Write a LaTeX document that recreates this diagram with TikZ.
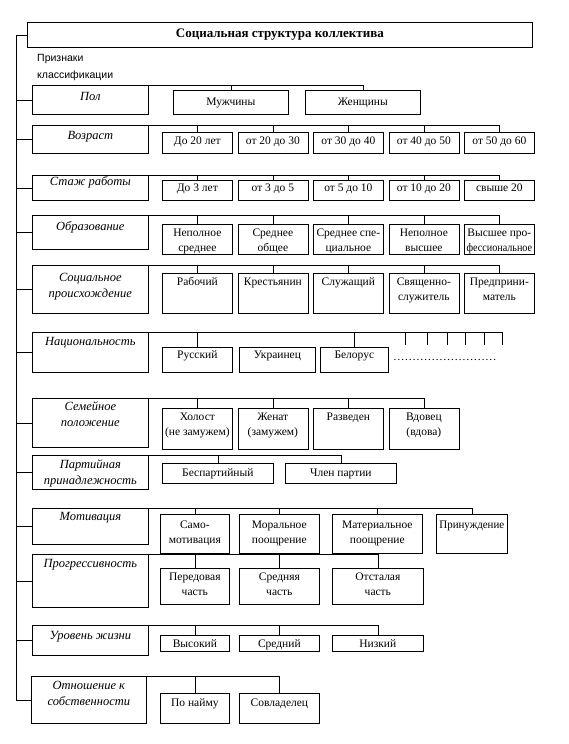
\documentclass[tikz,border=0pt]{standalone}
\usepackage{fontspec}
\setmainfont{Liberation Serif}
\newfontfamily\sansf{Liberation Sans}
\tikzset{
  ln/.style={line width=0.7pt},
  bx/.style={draw, line width=0.7pt, rectangle, inner sep=0pt, anchor=north west},
  vt/.style={inner sep=0pt, anchor=north, font=\fontsize{11.5}{15}\selectfont},
  ct/.style={inner sep=0pt, anchor=north, font=\fontsize{12.5}{16}\selectfont\itshape},
}
\newcommand{\valbox}[7][9]{%
  \node[bx, minimum width=#5pt, minimum height=#6pt] (#2) at (#3,#4) {};
  \node[vt] (#2t) at ([yshift={-(#1-7.7)*1pt}]#2.north) {\begin{tabular}{@{}c@{}}#7\end{tabular}};
}
\newcommand{\catbox}[7][10]{%
  \node[bx, minimum width=#5pt, minimum height=#6pt] (#2) at (#3,#4) {};
  \node[ct] (#2t) at ([yshift={-(#1-8.4)*1pt}]#2.north) {\begin{tabular}{@{}c@{}}#7\end{tabular}};
}
\newcommand{\lk}[2]{\draw[ln] (#2.north) |- (#1.north east);}
\begin{document}
\begin{tikzpicture}[x=1pt,y=-1pt]
\fill[white] (0,0) rectangle (569,744);
\useasboundingbox (0,0) rectangle (569,744);

% title
\node[bx, minimum width=505pt, minimum height=25pt] (title) at (27,22) {};
\node[inner sep=0pt, font=\fontsize{13}{15}\selectfont\bfseries] (titlet) at (title.center) {Социальная структура коллектива};
\node[anchor=north west, inner sep=0pt, font=\sansf\fontsize{10.5}{17}\selectfont] (lab) at (37,49.5) {\begin{tabular}{@{}l@{}}Признаки\\классификации\end{tabular}};

% row 1
\catbox[12]{c1}{32}{85}{116}{29}{Пол}
\valbox[12]{m1}{173}{90}{115}{24}{Мужчины}
\valbox[12]{m2}{305}{90}{115}{24}{Женщины}
\lk{c1}{m1}\lk{c1}{m2}

% row 2
\catbox[11]{c2}{32}{125}{116}{28}{Возраст}
\valbox{a1}{162}{132}{70}{21}{До 20 лет}
\valbox{a2}{237.5}{132}{70}{21}{от 20 до 30}
\valbox{a3}{313}{132}{70}{21}{от 30 до 40}
\valbox{a4}{388.5}{132}{70}{21}{от 40 до 50}
\valbox{a5}{464}{132}{70}{21}{от 50 до 60}
\lk{c2}{a1}\lk{c2}{a2}\lk{c2}{a3}\lk{c2}{a4}\lk{c2}{a5}

% row 3
\catbox[7]{c3}{32}{175}{116}{25}{Стаж работы}
\valbox[8]{s1}{162}{180}{70}{20}{До 3 лет}
\valbox[8]{s2}{237.5}{180}{70}{20}{от 3 до 5}
\valbox[8]{s3}{313}{180}{70}{20}{от 5 до 10}
\valbox[8]{s4}{388.5}{180}{70}{20}{от 10 до 20}
\valbox[8]{s5}{464}{180}{70}{20}{свыше 20}
\lk{c3}{s1}\lk{c3}{s2}\lk{c3}{s3}\lk{c3}{s4}\lk{c3}{s5}

% row 4
\catbox[12]{c4}{32}{215}{116}{34}{Образование}
\valbox{e1}{162}{224}{70}{30}{Неполное\\среднее}
\valbox{e2}{237.5}{224}{70}{30}{Среднее\\общее}
\valbox{e3}{313}{224}{70}{30}{Среднее спе-\\циальное}
\valbox{e4}{388.5}{224}{70}{30}{Неполное\\высшее}
\valbox{e5}{464}{224}{70}{30}{Высшее про-\\\scalebox{0.88}[1]{фессиональное}}
\lk{c4}{e1}\lk{c4}{e2}\lk{c4}{e3}\lk{c4}{e4}\lk{c4}{e5}

% row 5
\catbox[13]{c5}{32}{265}{116}{48}{Социальное\\происхождение}
\valbox{o1}{162}{273}{70}{40}{Рабочий}
\valbox{o2}{237.5}{273}{70}{40}{Крестьянин}
\valbox{o3}{313}{273}{70}{40}{Служащий}
\valbox{o4}{388.5}{273}{70}{40}{Священно-\\служитель}
\valbox{o5}{464}{273}{70}{40}{Предприни-\\матель}
\lk{c5}{o1}\lk{c5}{o2}\lk{c5}{o3}\lk{c5}{o4}\lk{c5}{o5}

% row 6
\catbox[10]{c6}{32}{332}{116}{40}{Национальность}
\valbox[8]{r1}{162}{347}{70}{25}{Русский}
\valbox[8]{r2}{239}{347}{76}{25}{Украинец}
\valbox[8]{r3}{320}{347}{68}{25}{Белорус}
\lk{c6}{r1}\lk{c6}{r3}
\coordinate (n1) at (405,345);
\coordinate (n2) at (427,345);
\coordinate (n3) at (447,345);
\coordinate (n4) at (465,345);
\coordinate (n5) at (484,345);
\coordinate (n6) at (502,345);
\foreach \n in {n1,n2,n3,n4,n5,n6} {\draw[ln] (\n) |- (c6.north east);}
\node[vt, anchor=west] (dots) at (393,360) {\dots\dots\dots\dots\dots\dots\dots\dots\dots};

% row 7
\catbox[9]{c7}{32}{398}{116}{49}{Семейное\\положение}
\valbox{f1}{162}{408}{70}{41}{Холост\\(не замужем)}
\valbox{f2}{237.5}{408}{70}{41}{Женат\\(замужем)}
\valbox{f3}{313}{408}{70}{41}{Разведен}
\valbox{f4}{388.5}{408}{70}{41}{Вдовец\\(вдова)}
\lk{c7}{f1}\lk{c7}{f2}\lk{c7}{f3}\lk{c7}{f4}

% row 8
\catbox[10]{c8}{32}{455}{116}{34}{Партийная\\принадлежность}
\valbox[10]{p1}{162}{463}{111}{20}{Беспартийный}
\valbox[10]{p2}{285}{463}{111}{20}{Член партии}
\lk{c8}{p1}\lk{c8}{p2}

% row 9
\catbox[9]{c9}{32}{508}{116}{36}{Мотивация}
\valbox[11]{t1}{160}{514}{69}{39}{Само-\\мотивация}
\valbox[11]{t2}{239}{514}{80}{39}{Моральное\\поощрение}
\valbox[11]{t3}{332}{514}{90}{39}{Материальное\\поощрение}
\valbox[11]{t4}{436}{514}{71}{39}{\scalebox{0.95}[1]{Принуждение}}
\lk{c9}{t1}\lk{c9}{t2}\lk{c9}{t3}\lk{c9}{t4}

% row 10
\catbox[10]{c10}{32}{554}{116}{53}{Прогрессивность}
\valbox{g1}{160}{568}{69}{36}{Передовая\\часть}
\valbox{g2}{239}{568}{80}{36}{Средняя\\часть}
\valbox{g3}{332}{568}{91}{36}{Отсталая\\часть}
\lk{c10}{g1}\lk{c10}{g2}\lk{c10}{g3}

% row 11
\catbox[11]{c11}{32}{625}{116}{30}{Уровень жизни}
\valbox{l1}{160}{635}{69}{16}{Высокий}
\valbox{l2}{239}{635}{80}{16}{Средний}
\valbox{l3}{332}{635}{91}{16}{Низкий}
\lk{c11}{l1}\lk{c11}{l2}\lk{c11}{l3}

% row 12
\catbox[10]{c12}{31}{676}{115}{47}{Отношение к\\собственности}
\valbox[10]{w1}{160}{693}{69}{30}{По найму}
\valbox[10]{w2}{239}{693}{80}{30}{Совладелец}
\lk{c12}{w1}\lk{c12}{w2}

% spine
\coordinate (sp) at (16,0);
\draw[ln] (title.west) -- (title.west -| sp) -- (c12.west -| sp) -- (c12.west);
\foreach \c in {c1,c2,c3,c4,c5,c6,c7,c8,c9,c10,c11} {\draw[ln] (\c.west) -- (\c.west -| sp);}
\end{tikzpicture}
\end{document}
